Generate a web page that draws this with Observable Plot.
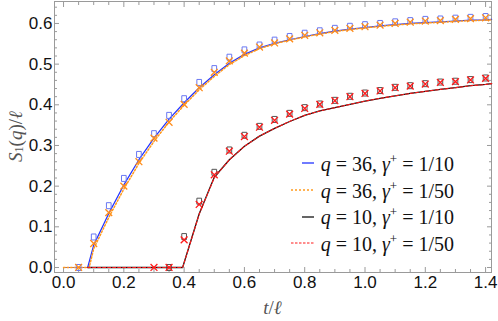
<!DOCTYPE html>
<html><head><meta charset="utf-8">
<script src="https://cdn.jsdelivr.net/npm/d3@7"></script>
<script src="https://cdn.jsdelivr.net/npm/@observablehq/plot@0.6"></script>
<style>
body{margin:0;background:#fff}
#wrap{position:relative;width:498px;height:321px}
#legend{position:absolute;right:44px;top:150px;font-family:"Liberation Serif","Times New Roman",serif;font-size:20px;color:#111}
#legend .row{height:26.7px;display:flex;align-items:center;justify-content:flex-end;white-space:pre}
#legend svg{margin-right:7px}
#legend i{font-style:italic}
</style>
</head><body><div id="wrap"></div>
<script>
// ---- data ----
const tFast = [0, 0.08, 0.1, 0.15, 0.2, 0.25, 0.3, 0.35, 0.4, 0.45, 0.5, 0.55, 0.6, 0.65, 0.7, 0.75, 0.8, 0.85, 0.9, 0.95, 1.0, 1.05, 1.1, 1.15, 1.2, 1.25, 1.3, 1.35, 1.4, 1.42];
const curveQ36g10 = [0, 0, 0.055, 0.133, 0.203, 0.265, 0.318, 0.365, 0.405, 0.442, 0.474, 0.502, 0.524, 0.540, 0.551, 0.560, 0.568, 0.575, 0.581, 0.586, 0.590, 0.594, 0.597, 0.600, 0.602, 0.604, 0.606, 0.608, 0.609, 0.610];
const tFastB = [0, 0.085, 0.1, 0.15, 0.2, 0.25, 0.3, 0.35, 0.4, 0.45, 0.5, 0.55, 0.6, 0.65, 0.7, 0.75, 0.8, 0.85, 0.9, 0.95, 1.0, 1.05, 1.1, 1.15, 1.2, 1.25, 1.3, 1.35, 1.4, 1.42];
const curveQ36g50 = [0, 0, 0.046, 0.123, 0.193, 0.256, 0.310, 0.358, 0.399, 0.437, 0.470, 0.499, 0.521, 0.538, 0.550, 0.559, 0.567, 0.574, 0.580, 0.585, 0.589, 0.593, 0.596, 0.599, 0.601, 0.603, 0.605, 0.607, 0.608, 0.609];
const tSlow = [0.08, 0.395, 0.45, 0.5, 0.55, 0.6, 0.65, 0.7, 0.75, 0.8, 0.85, 0.9, 0.95, 1.0, 1.05, 1.1, 1.15, 1.2, 1.25, 1.3, 1.35, 1.4, 1.42];
const curveQ10g10 = [0, 0, 0.132, 0.222, 0.265, 0.298, 0.323, 0.342, 0.359, 0.374, 0.385, 0.393, 0.401, 0.409, 0.416, 0.422, 0.428, 0.433, 0.438, 0.442, 0.447, 0.450, 0.452];
const curveQ10g50 = [0, 0, 0.131, 0.221, 0.265, 0.298, 0.323, 0.342, 0.359, 0.374, 0.385, 0.393, 0.401, 0.409, 0.416, 0.422, 0.428, 0.433, 0.438, 0.442, 0.447, 0.450, 0.452];

const tMarks = [0.05, 0.1, 0.15, 0.2, 0.25, 0.3, 0.35, 0.4, 0.45, 0.5, 0.55, 0.6, 0.65, 0.7, 0.75, 0.8, 0.85, 0.9, 0.95, 1.0, 1.05, 1.1, 1.15, 1.2, 1.25, 1.3, 1.35, 1.4];
const markQ36g10 = [0, 0.075, 0.152, 0.219, 0.278, 0.329, 0.374, 0.415, 0.455, 0.489, 0.517, 0.535, 0.547, 0.559, 0.568, 0.576, 0.582, 0.588, 0.593, 0.597, 0.600, 0.604, 0.607, 0.610, 0.611, 0.613, 0.615, 0.617];
const markQ36g50 = [0, 0.059, 0.135, 0.200, 0.260, 0.318, 0.357, 0.401, 0.442, 0.480, 0.508, 0.527, 0.542, 0.552, 0.562, 0.571, 0.577, 0.583, 0.588, 0.592, 0.596, 0.600, 0.603, 0.606, 0.607, 0.610, 0.612, 0.614];
const tMarksSlow = [0.35, 0.4, 0.45, 0.5, 0.55, 0.6, 0.65, 0.7, 0.75, 0.8, 0.85, 0.9, 0.95, 1.0, 1.05, 1.1, 1.15, 1.2, 1.25, 1.3, 1.35, 1.4];
const markQ10g10 = [0, 0.076, 0.163, 0.234, 0.289, 0.325, 0.347, 0.364, 0.379, 0.393, 0.402, 0.411, 0.421, 0.429, 0.435, 0.443, 0.447, 0.452, 0.456, 0.458, 0.462, 0.466];
const tMarksSlowB = [0.3, 0.35, 0.4, 0.45, 0.5, 0.55, 0.6, 0.65, 0.7, 0.75, 0.8, 0.85, 0.9, 0.95, 1.0, 1.05, 1.1, 1.15, 1.2, 1.25, 1.3, 1.35, 1.4];
const markQ10g50 = [0, 0, 0.068, 0.155, 0.228, 0.286, 0.322, 0.345, 0.362, 0.377, 0.391, 0.401, 0.410, 0.420, 0.428, 0.434, 0.442, 0.446, 0.451, 0.455, 0.457, 0.461, 0.465];

const xMajor = [0, 0.2, 0.4, 0.6, 0.8, 1.0, 1.2, 1.4];
const xMinor = [0.05, 0.1, 0.15, 0.25, 0.3, 0.35, 0.45, 0.5, 0.55, 0.65, 0.7, 0.75, 0.85, 0.9, 0.95, 1.05, 1.1, 1.15, 1.25, 1.3, 1.35];
const yMajor = [0, 0.1, 0.2, 0.3, 0.4, 0.5, 0.6];
const yMinor = [0.02, 0.04, 0.06, 0.08, 0.12, 0.14, 0.16, 0.18, 0.22, 0.24, 0.26, 0.28, 0.32, 0.34, 0.36, 0.38, 0.42, 0.44, 0.46, 0.48, 0.52, 0.54, 0.56, 0.58, 0.62, 0.64];

const legendQ = ["36", "36", "10", "10"];
const legendGamma = ["1/10", "1/50", "1/10", "1/50"];

// ---- build ----
const zip = (ts, vs) => ts.map((t, i) => ({t, v: vs[i]}));
const tallSquare = {draw(ctx, size) { const r = Math.sqrt(size / Math.PI); ctx.rect(-0.78 * r, -r, 1.56 * r, 2 * r); }};
const frameC = "#9a9a9a";

const plot = Plot.plot({
  width: 498, height: 321,
  marginLeft: 54, marginRight: 7, marginTop: 1, marginBottom: 49,
  x: {domain: [-0.03, 1.4196], axis: null},
  y: {domain: [-0.0123, 0.654], axis: null},
  style: {fontFamily: "'Liberation Sans', Arial, sans-serif", fontSize: "17px", color: "#111", background: "#fff"},
  marks: [
    Plot.frame({stroke: frameC}),
    Plot.axisX(xMajor, {anchor: "bottom", tickSize: -5, fill: "none", stroke: frameC}),
    Plot.axisX(xMinor, {anchor: "bottom", tickSize: -3, fill: "none", stroke: frameC}),
    Plot.axisX(xMajor, {anchor: "top", tickSize: -5, fill: "none", stroke: frameC}),
    Plot.axisX(xMinor, {anchor: "top", tickSize: -3, fill: "none", stroke: frameC}),
    Plot.axisY(yMajor, {anchor: "left", tickSize: -5, fill: "none", stroke: frameC}),
    Plot.axisY(yMinor, {anchor: "left", tickSize: -3, fill: "none", stroke: frameC}),
    Plot.axisY(yMajor, {anchor: "right", tickSize: -5, fill: "none", stroke: frameC}),
    Plot.axisY(yMinor, {anchor: "right", tickSize: -3, fill: "none", stroke: frameC}),
    Plot.axisX(xMajor, {anchor: "bottom", tickSize: 0, tickPadding: 3, tickFormat: d3.format(".1f"), label: null, fill: "#111"}),
    Plot.axisY(yMajor, {anchor: "left", tickSize: 0, tickPadding: 2, tickFormat: d3.format(".1f"), label: null, fill: "#111"}),
    // curves
    Plot.line(zip(tFast, curveQ36g10), {x: "t", y: "v", stroke: "#2233ff", strokeWidth: 1.2}),
    Plot.line(zip(tFastB, curveQ36g50), {x: "t", y: "v", stroke: "#ff9a1e", strokeWidth: 1.5, strokeDasharray: "1.6,1.9"}),
    Plot.line(zip(tSlow, curveQ10g10), {x: "t", y: "v", stroke: "#111", strokeWidth: 1.3}),
    Plot.line(zip(tSlow, curveQ10g50), {x: "t", y: "v", stroke: "#ff1a1a", strokeWidth: 1.1, strokeDasharray: "3,2"}),
    // markers
    Plot.dot(zip(tMarks, markQ36g10), {x: "t", y: "v", symbol: tallSquare, r: 3, stroke: "#6a78f2", strokeWidth: 1, fill: "none"}),
    Plot.dot(zip(tMarks, markQ36g50), {x: "t", y: "v", symbol: "times", r: 3.2, stroke: "#ff8c1a", strokeWidth: 1.3}),
    Plot.dot(zip(tMarksSlow, markQ10g10), {x: "t", y: "v", symbol: tallSquare, r: 3, stroke: "#555", strokeWidth: 1, fill: "none"}),
    Plot.dot(zip(tMarksSlowB, markQ10g50), {x: "t", y: "v", symbol: "times", r: 3.2, stroke: "#ff1a1a", strokeWidth: 1.3})
  ]
});

const wrap = document.getElementById("wrap");
wrap.appendChild(plot);

// axis titles (math style)
const svg = d3.select(plot);
const xs = plot.scale("x").range, ys = plot.scale("y").range;
const serif = "'Liberation Serif','Times New Roman',serif";
const xl = svg.append("text").attr("x", (xs[0] + xs[1]) / 2).attr("y", 307).attr("text-anchor", "middle")
  .attr("dominant-baseline", "central").attr("font-family", serif).attr("font-size", 19).attr("fill", "#555");
xl.append("tspan").attr("font-style", "italic").text("t");
xl.append("tspan").text("/");
xl.append("tspan").attr("font-style", "italic").text("ℓ");
const cy = (ys[0] + ys[1]) / 2;
const yl = svg.append("text").attr("transform", `translate(15,${cy}) rotate(-90)`).attr("text-anchor", "middle")
  .attr("dominant-baseline", "central").attr("font-family", serif).attr("font-size", 19).attr("fill", "#555");
yl.append("tspan").attr("font-style", "italic").text("S");
yl.append("tspan").attr("font-size", 12).attr("dy", 4).text("1");
yl.append("tspan").attr("dy", -4).text("(");
yl.append("tspan").attr("font-style", "italic").text("q");
yl.append("tspan").text(")/");
yl.append("tspan").attr("font-style", "italic").text("ℓ");

// legend
const legendStyles = [
  {stroke: "#2233ff", dash: null, len: 12, w: 1.3},
  {stroke: "#ff9a1e", dash: "2,2", len: 23, w: 1.3},
  {stroke: "#111", dash: null, len: 12, w: 1.3},
  {stroke: "#ff1a1a", dash: "2.5,1.5", len: 23, w: 1.1}
];
const leg = document.createElement("div");
leg.id = "legend";
legendQ.forEach((q, i) => {
  const s = legendStyles[i];
  const row = document.createElement("div");
  row.className = "row";
  row.innerHTML = `<svg width="${s.len}" height="4"><line x1="0" x2="${s.len}" y1="2" y2="2" stroke="${s.stroke}" stroke-width="${s.w}" ${s.dash ? `stroke-dasharray="${s.dash}"` : ""}/></svg>` +
    `<span><i>q</i> = ${q}, <i>γ</i><sup style="font-size:13px">+</sup> = ${legendGamma[i]}</span>`;
  leg.appendChild(row);
});
wrap.appendChild(leg);
</script>
</body></html>
